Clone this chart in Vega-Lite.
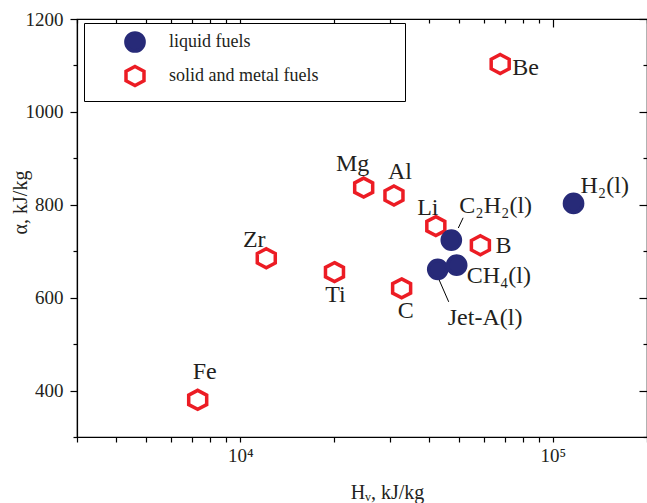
{
  "$schema": "https://vega.github.io/schema/vega-lite/v6.json",
  "width": 570,
  "height": 418,
  "autosize": {"type": "none"},
  "padding": {"left": 77, "top": 19, "right": 0, "bottom": 66},
  "background": "white",
  "config": {
    "view": {"stroke": "black", "strokeWidth": 1.2},
    "axis": {"grid": false, "domainColor": "black", "tickColor": "black", "labelFont": "Liberation Serif", "labelFontSize": 19, "labelColor": "#231f20", "titleFont": "Liberation Serif", "titleFontSize": 20, "titleFontWeight": "normal", "titleColor": "#231f20", "domainWidth": 1.2, "tickWidth": 1.2}
  },
  "datasets": {
    "fuels": [
      {"name": "Fe", "type": "solid and metal fuels", "H": 7300, "alpha": 380},
      {"name": "Zr", "type": "solid and metal fuels", "H": 12100, "alpha": 685},
      {"name": "Ti", "type": "solid and metal fuels", "H": 20000, "alpha": 655},
      {"name": "C", "type": "solid and metal fuels", "H": 32800, "alpha": 620},
      {"name": "Mg", "type": "solid and metal fuels", "H": 24800, "alpha": 837},
      {"name": "Al", "type": "solid and metal fuels", "H": 31000, "alpha": 820},
      {"name": "Li", "type": "solid and metal fuels", "H": 42200, "alpha": 754},
      {"name": "B", "type": "solid and metal fuels", "H": 58600, "alpha": 713},
      {"name": "Be", "type": "solid and metal fuels", "H": 67800, "alpha": 1103},
      {"name": "Jet-A(l)", "type": "liquid fuels", "H": 42800, "alpha": 661},
      {"name": "CH₄(l)", "type": "liquid fuels", "H": 49200, "alpha": 670},
      {"name": "C₂H₂(l)", "type": "liquid fuels", "H": 47300, "alpha": 724},
      {"name": "H₂(l)", "type": "liquid fuels", "H": 116400, "alpha": 803}
    ],
    "leaders": [
      {"x": 43000, "y": 642, "x2": 46400, "y2": 591},
      {"x": 49800, "y": 750, "x2": 51600, "y2": 772}
    ]
  },
  "resolve": {"axis": {"x": "independent", "y": "independent"}},
  "layer": [
    {
      "data": {"name": "leaders"},
      "mark": {"type": "rule", "color": "black", "strokeWidth": 1},
      "encoding": {
        "x": {"field": "x", "type": "quantitative", "scale": {"type": "log", "domain": [3000, 200000], "nice": false},
          "axis": {"orient": "top", "labels": false, "title": null, "domain": false,
            "values": [3000,4000,5000,6000,7000,8000,9000,10000,20000,30000,40000,50000,60000,70000,80000,90000,100000,200000],
            "tickSize": {"condition": {"test": "datum.value == 10000 || datum.value == 100000", "value": -8}, "value": -4}}},
        "y": {"field": "y", "type": "quantitative", "scale": {"domain": [300, 1200], "nice": false, "zero": false},
          "axis": {"orient": "right", "labels": false, "title": null, "domain": false,
            "values": [300,400,500,600,700,800,900,1000,1100,1200],
            "tickSize": {"condition": {"test": "datum.value % 200 == 0", "value": -8}, "value": -4}}},
        "x2": {"field": "x2"},
        "y2": {"field": "y2"}
      }
    },
    {
      "data": {"name": "fuels"},
      "mark": {"type": "point", "strokeWidth": 3.5, "opacity": 1},
      "encoding": {
        "x": {"field": "H", "type": "quantitative", "scale": {"type": "log", "domain": [3000, 200000], "nice": false},
          "axis": {"orient": "bottom", "title": "Hᵥ, kJ/kg",
            "values": [3000,4000,5000,6000,7000,8000,9000,10000,20000,30000,40000,50000,60000,70000,80000,90000,100000,200000],
            "labelExpr": "datum.value == 10000 ? '10⁴' : (datum.value == 100000 ? '10⁵' : '')",
            "labelOverlap": false, "labelFlush": false, "tickSize": 5, "labelPadding": 4,
            "titleX": 310, "titleY": 61, "titleAlign": "center", "titleBaseline": "alphabetic"}},
        "y": {"field": "alpha", "type": "quantitative", "scale": {"domain": [300, 1200], "nice": false, "zero": false},
          "axis": {"orient": "left", "title": "α, kJ/kg", "format": "d",
            "values": [300,400,500,600,700,800,900,1000,1100,1200],
            "labelExpr": "datum.value % 200 == 0 ? datum.label : ''",
            "labelOverlap": false, "labelFlush": false,
            "tickSize": {"condition": {"test": "datum.value % 200 == 0", "value": 7}, "value": 4},
            "labelPadding": 7,
            "titleX": -57, "titleY": 183, "titleAlign": "center", "titleBaseline": "middle", "titleAngle": -90}},
        "shape": {"field": "type", "type": "nominal",
          "scale": {"domain": ["liquid fuels", "solid and metal fuels"], "range": ["circle", "M0,-1.044L0.989,-0.522L0.989,0.522L0,1.044L-0.989,0.522L-0.989,-0.522Z"]},
          "legend": {"title": null, "orient": "none", "legendX": 7, "legendY": 4, "strokeColor": "black", "fillColor": "white", "padding": 8,
            "symbolOffset": 32, "labelOffset": 23, "rowPadding": 0, "symbolSize": 331, "symbolStrokeWidth": 3.5,
            "labelFont": "Liberation Serif", "labelFontSize": 18, "labelColor": "#231f20", "labelLimit": 400,
            "labelExpr": "datum.label == 'solid and metal fuels' ? datum.label + '\u2800\u2800\u2800\u2800\u2800\u2800' : datum.label"}},
        "fill": {"field": "type", "type": "nominal", "scale": {"domain": ["liquid fuels", "solid and metal fuels"], "range": ["#272a78", "transparent"]}},
        "stroke": {"field": "type", "type": "nominal", "scale": {"domain": ["liquid fuels", "solid and metal fuels"], "range": ["#272a78", "#ec1c24"]}},
        "size": {"value": 331}
      }
    },
    {"data": {"name": "fuels"}, "transform": [{"filter": "datum.name == 'Fe'"}], "mark": {"type": "text", "font": "Liberation Serif", "fontSize": 24, "color": "#231f20", "baseline": "alphabetic", "align": "center", "dx": 7, "dy": -21}, "encoding": {"x": {"field": "H", "type": "quantitative", "axis": null}, "y": {"field": "alpha", "type": "quantitative", "axis": null}, "text": {"field": "name"}}},
    {"data": {"name": "fuels"}, "transform": [{"filter": "datum.name == 'Zr'"}], "mark": {"type": "text", "font": "Liberation Serif", "fontSize": 24, "color": "#231f20", "baseline": "alphabetic", "align": "center", "dx": -12, "dy": -11}, "encoding": {"x": {"field": "H", "type": "quantitative", "axis": null}, "y": {"field": "alpha", "type": "quantitative", "axis": null}, "text": {"field": "name"}}},
    {"data": {"name": "fuels"}, "transform": [{"filter": "datum.name == 'Ti'"}], "mark": {"type": "text", "font": "Liberation Serif", "fontSize": 24, "color": "#231f20", "baseline": "alphabetic", "align": "center", "dx": 1, "dy": 30}, "encoding": {"x": {"field": "H", "type": "quantitative", "axis": null}, "y": {"field": "alpha", "type": "quantitative", "axis": null}, "text": {"field": "name"}}},
    {"data": {"name": "fuels"}, "transform": [{"filter": "datum.name == 'C'"}], "mark": {"type": "text", "font": "Liberation Serif", "fontSize": 24, "color": "#231f20", "baseline": "alphabetic", "align": "center", "dx": 4, "dy": 30}, "encoding": {"x": {"field": "H", "type": "quantitative", "axis": null}, "y": {"field": "alpha", "type": "quantitative", "axis": null}, "text": {"field": "name"}}},
    {"data": {"name": "fuels"}, "transform": [{"filter": "datum.name == 'Jet-A(l)'"}], "mark": {"type": "text", "font": "Liberation Serif", "fontSize": 24, "color": "#231f20", "baseline": "alphabetic", "align": "left", "dx": 10, "dy": 56}, "encoding": {"x": {"field": "H", "type": "quantitative", "axis": null}, "y": {"field": "alpha", "type": "quantitative", "axis": null}, "text": {"field": "name"}}},
    {"data": {"name": "fuels"}, "transform": [{"filter": "datum.name == 'CH₄(l)'"}], "mark": {"type": "text", "font": "Liberation Serif", "fontSize": 24, "color": "#231f20", "baseline": "alphabetic", "align": "left", "dx": 10, "dy": 18}, "encoding": {"x": {"field": "H", "type": "quantitative", "axis": null}, "y": {"field": "alpha", "type": "quantitative", "axis": null}, "text": {"field": "name"}}},
    {"data": {"name": "fuels"}, "transform": [{"filter": "datum.name == 'B'"}], "mark": {"type": "text", "font": "Liberation Serif", "fontSize": 24, "color": "#231f20", "baseline": "alphabetic", "align": "left", "dx": 15, "dy": 8}, "encoding": {"x": {"field": "H", "type": "quantitative", "axis": null}, "y": {"field": "alpha", "type": "quantitative", "axis": null}, "text": {"field": "name"}}},
    {"data": {"name": "fuels"}, "transform": [{"filter": "datum.name == 'C₂H₂(l)'"}], "mark": {"type": "text", "font": "Liberation Serif", "fontSize": 24, "color": "#231f20", "baseline": "alphabetic", "align": "left", "dx": 8, "dy": -27}, "encoding": {"x": {"field": "H", "type": "quantitative", "axis": null}, "y": {"field": "alpha", "type": "quantitative", "axis": null}, "text": {"field": "name"}}},
    {"data": {"name": "fuels"}, "transform": [{"filter": "datum.name == 'Li'"}], "mark": {"type": "text", "font": "Liberation Serif", "fontSize": 24, "color": "#231f20", "baseline": "alphabetic", "align": "center", "dx": -8, "dy": -11}, "encoding": {"x": {"field": "H", "type": "quantitative", "axis": null}, "y": {"field": "alpha", "type": "quantitative", "axis": null}, "text": {"field": "name"}}},
    {"data": {"name": "fuels"}, "transform": [{"filter": "datum.name == 'Mg'"}], "mark": {"type": "text", "font": "Liberation Serif", "fontSize": 24, "color": "#231f20", "baseline": "alphabetic", "align": "center", "dx": -11, "dy": -17}, "encoding": {"x": {"field": "H", "type": "quantitative", "axis": null}, "y": {"field": "alpha", "type": "quantitative", "axis": null}, "text": {"field": "name"}}},
    {"data": {"name": "fuels"}, "transform": [{"filter": "datum.name == 'Al'"}], "mark": {"type": "text", "font": "Liberation Serif", "fontSize": 24, "color": "#231f20", "baseline": "alphabetic", "align": "center", "dx": 6, "dy": -16}, "encoding": {"x": {"field": "H", "type": "quantitative", "axis": null}, "y": {"field": "alpha", "type": "quantitative", "axis": null}, "text": {"field": "name"}}},
    {"data": {"name": "fuels"}, "transform": [{"filter": "datum.name == 'Be'"}], "mark": {"type": "text", "font": "Liberation Serif", "fontSize": 24, "color": "#231f20", "baseline": "alphabetic", "align": "left", "dx": 12, "dy": 11}, "encoding": {"x": {"field": "H", "type": "quantitative", "axis": null}, "y": {"field": "alpha", "type": "quantitative", "axis": null}, "text": {"field": "name"}}},
    {"data": {"name": "fuels"}, "transform": [{"filter": "datum.name == 'H₂(l)'"}], "mark": {"type": "text", "font": "Liberation Serif", "fontSize": 24, "color": "#231f20", "baseline": "alphabetic", "align": "left", "dx": 7, "dy": -10}, "encoding": {"x": {"field": "H", "type": "quantitative", "axis": null}, "y": {"field": "alpha", "type": "quantitative", "axis": null}, "text": {"field": "name"}}}
  ]
}
